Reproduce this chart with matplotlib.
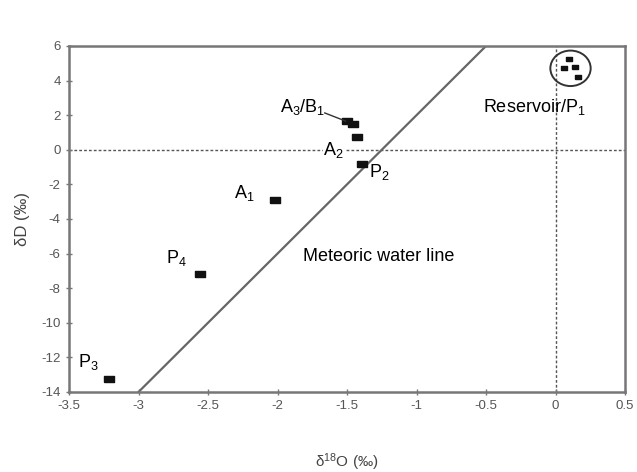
import numpy as np
import matplotlib.pyplot as plt
from matplotlib.patches import Ellipse

# ── Datos (δ18O, δD en ‰) ─────────────────────────────────────────────────────
P3_X, P3_Y = [-3.21], [-13.25]
P4_X, P4_Y = [-2.56], [-7.16]
A1_X, A1_Y = [-2.02], [-2.90]
A3B1_X, A3B1_Y = [-1.50, -1.46], [1.66, 1.47]
A2_X, A2_Y = [-1.43], [0.76]
P2_X, P2_Y = [-1.39], [-0.84]
RES_X = [0.10, 0.06, 0.14, 0.16]
RES_Y = [5.27, 4.71, 4.80, 4.19]

# Línea meteórica: δD = 8·δ18O + 10
MWL_X = [-3.0, -0.5]
MWL_SLOPE, MWL_INT = 8, 10

X_TICKS = [-3.5, -3, -2.5, -2, -1.5, -1, -0.5, 0, 0.5]
Y_TICKS = [6, 4, 2, 0, -2, -4, -6, -8, -10, -12, -14]

plt.rcParams["font.family"] = ["Liberation Sans", "DejaVu Sans"]
plt.rcParams["mathtext.fontset"] = "custom"
plt.rcParams["mathtext.rm"] = "Liberation Sans"
plt.rcParams["mathtext.it"] = "Liberation Sans:italic"

fig = plt.figure(figsize=(6.37, 4.72), dpi=100)
ax = fig.add_axes([69/637, 1 - 392/472, 556/637, 346/472])

GRIS = "#777777"
rect = [(-1, -0.6), (1, -0.6), (1, 0.6), (-1, 0.6), (-1, -0.6)]
kw = dict(marker=rect, color="#111111", linestyle="none")

# líneas de referencia punteadas
ax.axhline(0, color="#555555", linestyle=(0, (2, 1.5)), linewidth=1.0, zorder=1)
ax.axvline(0, color="#555555", linestyle=(0, (2, 1.5)), linewidth=1.0, zorder=1)

mwl_x = np.array(MWL_X)
ax.plot(mwl_x, MWL_SLOPE * mwl_x + MWL_INT, color="#666666", linewidth=1.6, zorder=2)

for xs, ys in [(P3_X, P3_Y), (P4_X, P4_Y), (A1_X, A1_Y), (A3B1_X, A3B1_Y),
               (A2_X, A2_Y), (P2_X, P2_Y)]:
    ax.plot(xs, ys, zorder=3, markersize=7, **kw)
ax.plot(RES_X, RES_Y, zorder=3, markersize=5, **kw)

# círculo del reservorio
ax.add_patch(Ellipse((0.108, 4.71), width=0.29, height=2.05, fill=False,
                     edgecolor="#333333", linewidth=1.4, zorder=3))

# etiquetas
fs = 13
ax.text(-3.435, -12.27, r"P$_\mathrm{3}$", fontsize=fs, ha="left", va="center")
ax.text(-2.80, -6.25, r"P$_\mathrm{4}$", fontsize=fs, ha="left", va="center")
ax.text(-2.31, -2.5, r"A$_\mathrm{1}$", fontsize=fs, ha="left", va="center")
ax.text(-1.98, 2.47, r"A$_\mathrm{3}$/B$_\mathrm{1}$", fontsize=fs, ha="left", va="center")
ax.plot([-1.66, -1.51], [2.13, 1.66], color="#333333", linewidth=1.0, zorder=3)
ax.text(-1.67, 0.0, r"A$_\mathrm{2}$", fontsize=fs, ha="left", va="center",
        bbox=dict(facecolor="white", edgecolor="none", pad=0.5))
ax.text(-1.34, -1.28, r"P$_\mathrm{2}$", fontsize=fs, ha="left", va="center")
ax.text(-0.524, 2.47, r"Reservoir/P$_\mathrm{1}$", fontsize=fs, ha="left", va="center")
ax.text(-1.82, -6.14, "Meteoric water line", fontsize=fs, ha="left", va="center")

ax.set_xlim(-3.5, 0.5)
ax.set_ylim(-14, 6)
ax.set_xticks(X_TICKS)
ax.set_xticklabels(["-3.5", "-3", "-2.5", "-2", "-1.5", "-1", "-0.5", "0", "0.5"])
ax.set_yticks(Y_TICKS)
ax.set_yticklabels([str(v) for v in Y_TICKS])
ax.tick_params(direction="inout", length=5, width=1.0, color=GRIS,
               labelcolor="#555555", labelsize=9.5)

for s in ax.spines.values():
    s.set_color(GRIS)
    s.set_linewidth(1.8)

ax.set_xlabel(r"δ$^\mathrm{18}$O (‰)", fontsize=11, color="#444444", labelpad=28)
ax.set_ylabel("δD (‰)", fontsize=12, color="#444444", labelpad=8)

plt.savefig("out.png", dpi=100)
